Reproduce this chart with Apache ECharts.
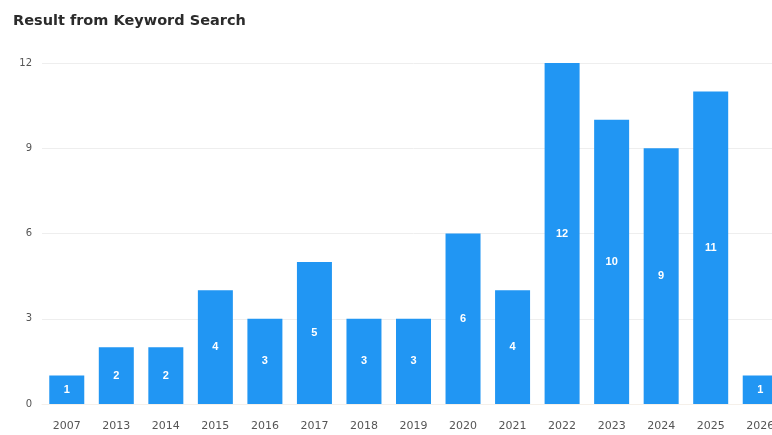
<!DOCTYPE html>
<html>
<head>
<meta charset="utf-8">
<style>
html,body{margin:0;padding:0;background:#fff;overflow:hidden;}
#chart{width:785px;height:435px;}
</style>
<script src="https://cdn.jsdelivr.net/npm/echarts@6/dist/echarts.min.js"></script>
</head>
<body>
<div id="chart"></div>
<script>
const titleText = 'Result from Keyword Search';
const categories = ['2007','2013','2014','2015','2016','2017','2018','2019','2020','2021','2022','2023','2024','2025','2026'];
const counts = [1,2,2,4,3,5,3,3,6,4,12,10,9,11,1];
const yTicks = [0,3,6,9,12];

const chart = echarts.init(document.getElementById('chart'));
chart.setOption({
  animation: false,
  title: {
    text: titleText,
    left: 8, top: 9,
    textStyle: {fontFamily: 'DejaVu Sans', fontWeight: 'bold', fontSize: 14.5, color: '#2b2b2b'}
  },
  grid: {left: 42, right: 0, top: 63, bottom: 31, containLabel: false},
  xAxis: {
    type: 'category',
    data: categories,
    axisLine: {show: true, lineStyle: {color: '#f5f0ea'}},
    axisTick: {show: false},
    axisLabel: {color: '#555', fontSize: 11, fontFamily: 'DejaVu Sans', margin: 17}
  },
  yAxis: {
    type: 'value',
    min: yTicks[0], max: yTicks[yTicks.length-1], interval: 3,
    axisLine: {show: false},
    axisTick: {show: false},
    axisLabel: {color: '#555', fontSize: 10, fontFamily: 'DejaVu Sans', margin: 10},
    splitLine: {lineStyle: {color: '#eeeeee'}}
  },
  series: [{
    type: 'bar',
    data: counts,
    barWidth: 35,
    itemStyle: {color: '#2196f3'},
    label: {show: true, position: 'inside', color: '#fff', fontWeight: 'bold', fontSize: 11, fontFamily: 'Liberation Sans'}
  }]
});
</script>
</body>
</html>
